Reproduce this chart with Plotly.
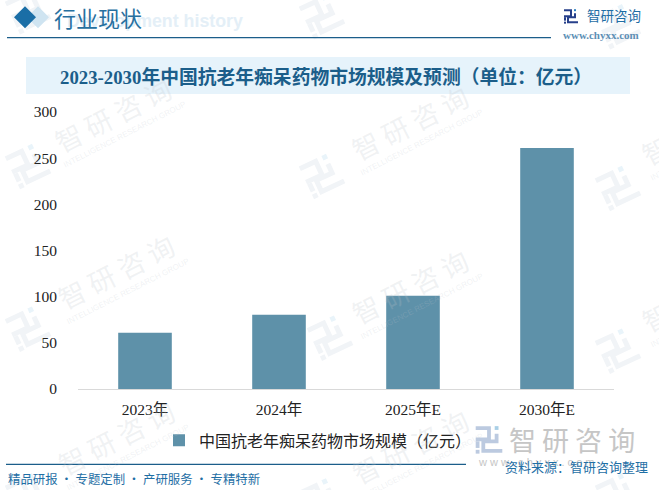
import math

import plotly.graph_objects as go

categories = ['2023年', '2024年', '2025年E', '2030年E']
market_size = [61, 80.5, 101, 261]
series_name = '中国抗老年痴呆药物市场规模（亿元）'
y_ticks = [0, 50, 100, 150, 200, 250, 300]

chart_title = '2023-2030年中国抗老年痴呆药物市场规模及预测（单位：亿元）'
footer_left = '精品研报 · 专题定制 · 产研服务 · 专精特新'
footer_right = '资料来源：智研咨询整理'

BAR_COLOR = '#5e91a9'
BLUE = '#1b5e8a'
SERIF = 'Liberation Serif, Noto Sans CJK SC'
SANS = 'Noto Sans CJK SC'

# plot area in pixels, everything decorative is placed from these
WIDTH, HEIGHT = 659, 490
LEFT, RIGHT, TOP, BOTTOM = 78, 614, 112, 389.5


def px(x):
    return (x - LEFT) / (RIGHT - LEFT)


def py(y):
    return (BOTTOM - y) / (BOTTOM - TOP)


def label(x, y, text, size, color, font=SANS, anchor='center', angle=0):
    return dict(x=px(x), y=py(y), xref='paper', yref='paper', text=text,
                showarrow=False, xanchor=anchor, yanchor='middle',
                textangle=angle, font=dict(size=size, color=color, family=font))


def rect(x0, y0, x1, y1, color):
    return dict(type='rect', xref='paper', yref='paper', x0=px(x0), x1=px(x1),
                y0=py(y0), y1=py(y1), fillcolor=color, line_width=0, layer='below')


def hline(x0, x1, y, color):
    return dict(type='line', xref='paper', yref='paper', x0=px(x0), x1=px(x1),
                y0=py(y), y1=py(y), line=dict(color=color, width=1.3), layer='below')


def polygon(points, color):
    path = 'M' + 'L'.join(f'{px(a):.5f},{py(b):.5f}' for a, b in points) + 'Z'
    return dict(type='path', xref='paper', yref='paper', path=path,
                fillcolor=color, line_width=0, layer='below')


def logo(cx, cy, scale, angle, color, dot_color):
    '''The company mark: three bars and a dot, turned around its centre.'''
    cos_a, sin_a = math.cos(math.radians(angle)), math.sin(math.radians(angle))
    parts = [
        [(-14, -14), (2, -14), (2, 2), (-14, 2), (-14, -2), (-2, -2), (-2, -10), (-14, -10)],
        [(-14, 2), (-10, 2), (-10, 9), (-14, 9)],
        [(6, -6), (10, -6), (10, 4), (-4, 4), (-4, 10), (14, 10), (14, 14), (-8, 14), (-8, 0), (6, 0)],
    ]
    shapes = []
    for part in parts:
        points = [(cx + scale * (a * cos_a - b * sin_a), cy + scale * (a * sin_a + b * cos_a))
                  for a, b in part]
        shapes.append(polygon(points, color))
    for a, b, c in [(6, -14, dot_color), (-14, 11, color)]:
        points = [(cx + scale * ((a + i) * cos_a - (b + j) * sin_a),
                   cy + scale * ((a + i) * sin_a + (b + j) * cos_a))
                  for i, j in [(0, 0), (4, 0), (4, 4), (0, 4)]]
        shapes.append(polygon(points, c))
    return shapes


shapes = []
annotations = []

# watermark behind the chart
for cx, cy in [(113, 115), (410, 123), (116, 272), (410, 287), (116, 438), (410, 447),
               (700, 128), (700, 295)]:
    annotations.append(label(cx, cy, '智 研 咨 询', 27, 'rgba(190,196,204,0.22)', angle=-27))
    annotations.append(label(cx + 12, cy + 20, 'INTELLIGENCE RESEARCH GROUP', 8,
                             'rgba(190,196,204,0.22)', font='Liberation Sans', angle=-27))
for cx, cy in [(28, 165), (322, 175), (618, 187), (28, 328), (330, 337), (618, 350),
               (28, 495), (322, 500), (618, 495), (322, 15), (618, 25), (28, 10)]:
    shapes += logo(cx, cy, 1.25, -25, '#f1f4f7', '#e9f4fa')

# header
shapes.append(polygon([(38, 6), (49, 17), (38, 28), (27, 17)], '#cfe4f1'))
shapes.append(polygon([(25, 6), (36, 17), (25, 28), (14, 17)], '#1a6ea6'))
shapes.append(hline(7, 551, 37.5, BLUE))
annotations.append(label(65, 21, '<b>Development history</b>', 17.8, '#e4eff7',
                         font='Liberation Sans, Arial', anchor='left'))
annotations.append(label(52, 17, '行业现状', 22, '#27709f', anchor='left'))
shapes += logo(571, 16, 0.5, 0, '#27408b', '#2a7fc0')
annotations.append(label(585, 15, '智研咨询', 13.5, '#1f6ea5', anchor='left'))
annotations.append(label(561, 35, '<b>www.chyxx.com</b>', 11, '#5d8fb5',
                         font='Liberation Serif', anchor='left'))

# title band
shapes.append(rect(26, 57, 630, 94, '#e6f3fb'))
annotations.append(label(326, 76.5, f'<b>{chart_title}</b>', 18.8, BLUE, font=SERIF))

# footer
shapes.append(hline(6, 466, 465, BLUE))
annotations.append(label(6, 480, footer_left, 12.4, '#1f6fa5', anchor='left'))
shapes += logo(489, 440, 0.95, 0, '#bccae0', '#a9cfe6')
annotations.append(label(507, 440, '智 研 咨 询', 27, '#c6c6c6', anchor='left'))
annotations.append(label(476, 463, 'w w w . c h y x x . c o m', 11, '#c6c6c6',
                         font='Liberation Sans', anchor='left'))
annotations.append(label(503, 467, footer_right, 13, '#1f6fa5', anchor='left'))

fig = go.Figure()
fig.add_trace(go.Bar(x=categories, y=market_size, name=series_name,
                     marker=dict(color=BAR_COLOR, line_width=0)))

fig.update_layout(
    width=WIDTH,
    height=HEIGHT,
    margin=dict(l=LEFT, r=WIDTH - RIGHT, t=TOP, b=HEIGHT - BOTTOM, pad=0),
    paper_bgcolor='white',
    plot_bgcolor='rgba(0,0,0,0)',
    bargap=0.6,
    showlegend=True,
    legend=dict(orientation='h', x=px(159), y=py(424), xanchor='left', yanchor='top',
                font=dict(size=16, color='#222222', family=SERIF),
                bgcolor='rgba(0,0,0,0)'),
    shapes=shapes,
    annotations=annotations,
)
fig.update_xaxes(showline=True, linecolor='#d9d9d9', linewidth=1, ticks='',
                 showgrid=False, ticklabelstandoff=6,
                 tickfont=dict(size=15.5, color='#222222', family=SERIF))
fig.update_yaxes(range=[0, 300], tickvals=y_ticks, showgrid=False, zeroline=False,
                 showline=False, ticks='', ticklabelstandoff=20,
                 tickfont=dict(size=15.5, color='#222222', family=SERIF))

# the page's default body margin would push the 659x490 figure out of the window
fig.write_html("out.html", config=dict(displayModeBar=False),
               post_script="document.body.style.margin = '0';")
